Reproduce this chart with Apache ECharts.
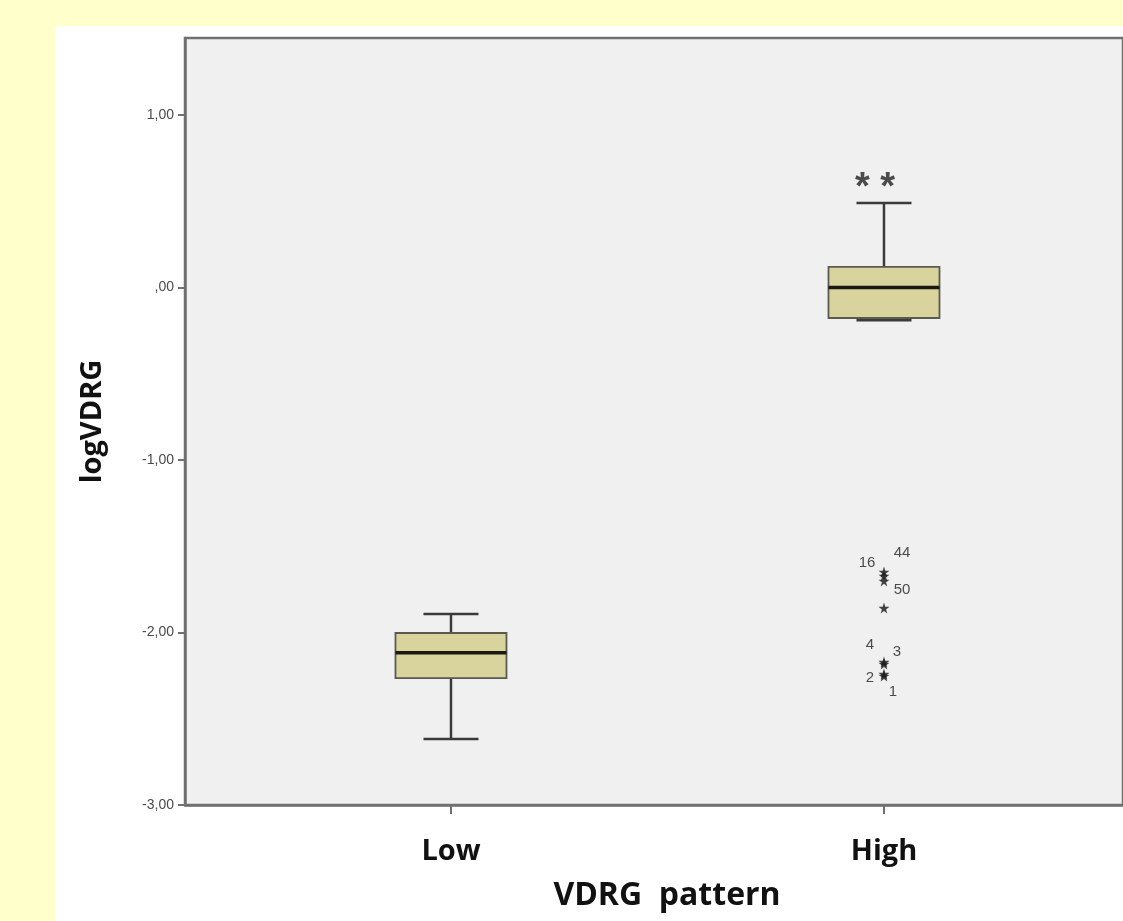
<!DOCTYPE html>
<html>
<head>
<meta charset="utf-8">
<script src="https://cdn.jsdelivr.net/npm/echarts@6/dist/echarts.min.js"></script>
<style>
  html, body { margin: 0; padding: 0; width: 1123px; height: 921px; background: #FFFFCC; overflow: hidden; }
  #chart { position: absolute; left: 55px; top: 26px; width: 1068px; height: 895px; background: #FFFFFF; }
</style>
</head>
<body>
<div id="chart"></div>
<script>
// ---- data ----
const categories = ['Low', 'High'];
// [min, Q1, median, Q3, max] per category
const lowBox  = [-2.617, -2.264, -2.117, -2.003, -1.893];
const highBox = [-0.190, -0.177, 0.000, 0.119, 0.490];
// extreme outliers in the "High" group
const outlierIds    = ['16', '44', '50', '', '4', '3', '2', '1'];
const outlierValues = [-1.649, -1.672, -1.701, -1.858, -2.171, -2.183, -2.241, -2.252];
const yTicks = [-3, -2, -1, 0, 1];
const annotationText = '* *';
const annotationValue = 0.606;

// ---- styling (not data) ----
const labelOffsets = {
  '16': [-17, -9], '44': [18, -23], '50': [18, 9],
  '4': [-14, -17], '3': [13, -12], '2': [-14, 4], '1': [9, 16]
};
const starPath = 'path://M50,0 L61,35 L98,35 L68,57 L79,91 L50,70 L21,91 L32,57 L2,35 L39,35 Z';

const boxData = [lowBox, highBox].map((b, i) => [i].concat(b));
const outlierData = outlierValues.map((v, i) => ({
  value: [1, v],
  name: outlierIds[i],
  label: {
    show: outlierIds[i] !== '',
    offset: labelOffsets[outlierIds[i]] || [0, 0]
  }
}));

const fmtSpss = v => {
  if (Math.abs(v) < 1e-9) return ',00';
  return v.toFixed(2).replace('.', ',');
};

const chart = echarts.init(document.getElementById('chart'));
chart.setOption({
  animation: false,
  backgroundColor: '#FFFFFF',
  grid: {
    left: 130, top: 12, right: 0, bottom: 116,
    show: true, backgroundColor: '#F0F0F0', borderColor: '#707070', borderWidth: 2.5
  },
  xAxis: {
    type: 'value',
    min: -0.6143, max: 1.5520,
    splitLine: { show: false },
    axisLine: { show: true, onZero: false, lineStyle: { color: '#707070', width: 2.5 } },
    axisTick: { show: true, customValues: [0, 1], length: 9, lineStyle: { color: '#707070', width: 2 } },
    axisLabel: {
      customValues: [0, 1],
      formatter: v => categories[Math.round(v)],
      margin: 32,
      fontFamily: 'Open Sans', fontWeight: 'bold', fontSize: 29, color: '#111'
    },
    name: 'VDRG  pattern',
    nameLocation: 'middle',
    nameGap: 75,
    nameTextStyle: { fontFamily: 'Open Sans', fontWeight: 'bold', fontSize: 32, color: '#111', padding: [0, 0, 0, 26] }
  },
  yAxis: {
    type: 'value',
    min: -3, max: 1.446,
    splitLine: { show: false },
    axisLine: { show: true, onZero: false, lineStyle: { color: '#707070', width: 2.5 } },
    axisTick: { show: true, customValues: yTicks, length: 7, lineStyle: { color: '#707070', width: 2 } },
    axisLabel: {
      customValues: yTicks,
      formatter: fmtSpss,
      margin: 11,
      fontFamily: 'Liberation Sans', fontSize: 14, color: '#4A4A4A'
    },
    name: 'logVDRG',
    nameLocation: 'middle',
    nameGap: 78,
    nameRotate: 90,
    nameTextStyle: { fontFamily: 'Open Sans', fontWeight: 'bold', fontSize: 29, color: '#111' }
  },
  series: [
    {
      type: 'custom',
      data: boxData,
      encode: { x: 0, y: [1, 2, 3, 4, 5] },
      renderItem: (params, api) => {
        const x = api.value(0);
        const pMin = api.coord([x, api.value(1)]);
        const pQ1 = api.coord([x, api.value(2)]);
        const pMed = api.coord([x, api.value(3)]);
        const pQ3 = api.coord([x, api.value(4)]);
        const pMax = api.coord([x, api.value(5)]);
        const cx = pMed[0];
        const bw = 111, cw = 55;
        const wStyle = { stroke: '#3A3A3A', lineWidth: 2.5 };
        return {
          type: 'group',
          children: [
            { type: 'line', shape: { x1: cx, y1: pMax[1], x2: cx, y2: pQ3[1] }, style: wStyle },
            { type: 'line', shape: { x1: cx, y1: pMin[1], x2: cx, y2: pQ1[1] }, style: wStyle },
            { type: 'line', shape: { x1: cx - cw / 2, y1: pMax[1], x2: cx + cw / 2, y2: pMax[1] }, style: wStyle },
            { type: 'line', shape: { x1: cx - cw / 2, y1: pMin[1], x2: cx + cw / 2, y2: pMin[1] }, style: wStyle },
            { type: 'rect', shape: { x: cx - bw / 2, y: pQ3[1], width: bw, height: pQ1[1] - pQ3[1] },
              style: { fill: '#D9D39E', stroke: '#5A5A50', lineWidth: 1.8 } },
            { type: 'line', shape: { x1: cx - bw / 2, y1: pMed[1], x2: cx + bw / 2, y2: pMed[1] },
              style: { stroke: '#1A1A10', lineWidth: 3.5 } }
          ]
        };
      }
    },
    {
      type: 'scatter',
      data: outlierData,
      symbol: starPath,
      symbolSize: 11,
      itemStyle: { color: '#151515' },
      label: {
        show: true,
        position: 'inside',
        formatter: p => p.name,
        fontFamily: 'Liberation Sans', fontSize: 15, color: '#222'
      }
    },
    {
      type: 'scatter',
      data: [[1, annotationValue]],
      symbolSize: 0,
      silent: true,
      label: {
        show: true,
        position: 'inside',
        offset: [-9, 6],
        formatter: () => annotationText,
        fontFamily: 'Liberation Sans', fontWeight: 'bold', fontSize: 38, color: '#222'
      }
    }
  ]
});
</script>
</body>
</html>
